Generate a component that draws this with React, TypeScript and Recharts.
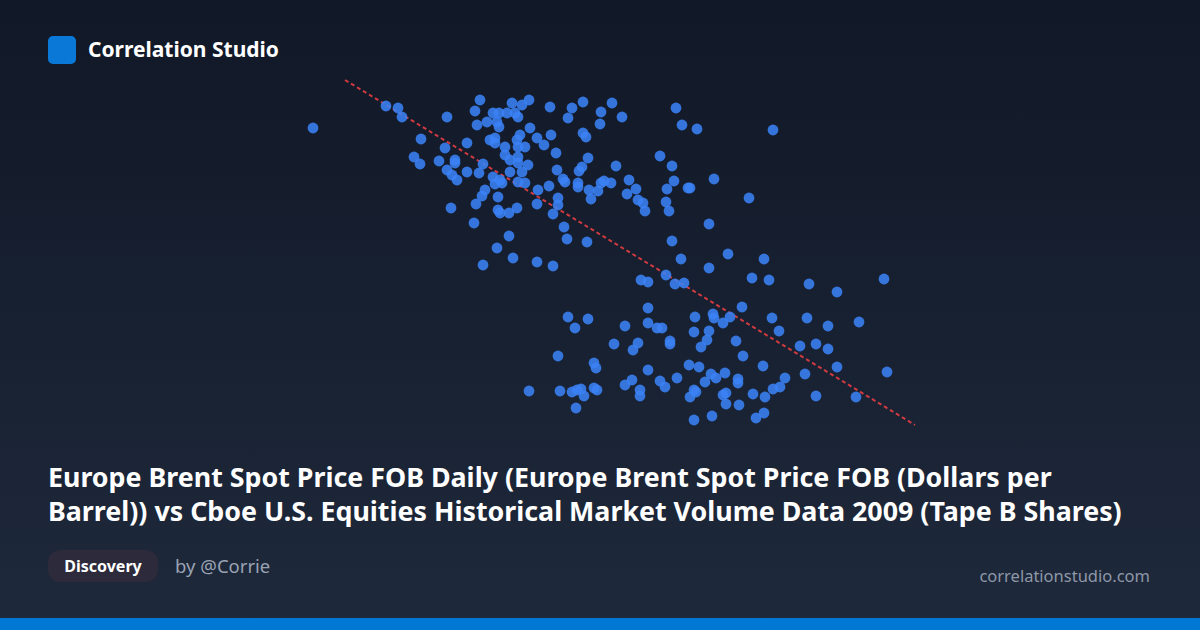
import { ScatterChart, Scatter, XAxis, YAxis } from "recharts";

// [brent $/bbl, tape B volume (M shares)]
const earlyDays: [number, number][] = [
  [31.3, 664], [38.6, 708], [39.8, 704], [40.2, 686], [44.7, 686], [48.0, 720], [47.5, 698], [47.7, 670],
  [49.3, 694], [48.7, 676], [49.7, 676], [49.0, 640], [49.5, 634], [42.1, 642], [44.5, 624], [46.7, 634],
  [41.4, 606], [42.0, 592], [43.9, 598], [45.5, 600], [45.5, 594], [44.7, 580], [45.2, 570], [45.7, 560],
  [46.7, 576], [47.9, 574], [48.3, 592], [49.3, 566], [49.5, 552], [48.5, 540], [48.2, 528], [49.8, 526],
  [47.6, 512], [45.1, 504], [47.4, 474], [49.8, 500], [49.7, 424], [48.3, 390], [51.2, 714], [52.9, 720],
  [52.2, 710], [50.7, 694], [51.5, 694], [51.8, 686], [49.9, 694], [49.9, 666], [55.0, 706], [57.2, 704],
  [56.8, 684], [58.3, 716], [60.1, 696], [61.2, 714], [62.2, 686], [60.0, 672], [67.6, 704], [68.2, 670],
  [69.7, 662], [53.0, 664], [52.0, 650], [51.7, 640], [53.7, 644], [55.1, 650], [54.4, 630], [58.3, 654],
  [58.6, 646], [50.5, 626], [51.8, 626], [52.5, 626], [49.5, 644], [55.6, 614], [58.8, 604], [50.5, 610],
  [51.0, 600], [51.8, 606], [51.8, 594], [52.8, 590], [55.7, 580], [58.2, 586], [57.9, 578], [61.6, 588],
  [66.0, 608], [67.2, 588], [50.0, 560], [51.0, 576], [52.2, 576], [51.8, 556], [52.5, 554], [50.2, 554],
  [56.3, 562], [56.5, 556], [57.8, 554], [57.8, 546], [60.1, 554], [60.4, 558], [61.1, 554], [62.9, 560],
  [67.4, 558], [68.8, 544], [54.9, 548], [53.8, 540], [58.9, 540], [59.8, 538], [62.7, 532], [63.6, 542],
  [59.1, 522], [66.7, 542], [66.6, 516], [66.9, 498], [63.8, 520], [64.3, 514], [64.5, 498], [50.0, 494],
  [50.9, 494], [51.7, 504], [53.7, 512], [55.8, 524], [55.8, 510], [55.3, 492], [56.4, 466], [50.9, 448],
  [56.7, 442], [58.7, 436], [67.2, 438], [51.3, 404], [53.7, 396], [55.3, 388], [68.1, 402], [77.3, 660],
  [71.4, 562], [69.0, 544], [74.9, 524], [70.9, 472], [72.8, 412], [76.4, 402], [70.9, 384],
];

const lateDays: [number, number][] = [
  [56.8, 286], [58.8, 282], [57.5, 264], [62.5, 268], [61.4, 232], [55.8, 208], [59.4, 194], [59.6, 184],
  [52.9, 138], [56.0, 138], [57.2, 136], [57.7, 140], [58.1, 142], [58.4, 128], [59.4, 144], [59.7, 140],
  [57.6, 104], [62.5, 150], [75.2, 364], [76.9, 360], [80.9, 352], [64.1, 360], [64.8, 356], [66.6, 370],
  [67.5, 352], [68.4, 354], [64.8, 304], [74.2, 306], [69.5, 286], [71.3, 292], [71.4, 284], [73.0, 286],
  [72.3, 274], [77.2, 284], [80.7, 284], [64.8, 274], [65.7, 264], [66.2, 264], [69.4, 256], [70.9, 258],
  [77.9, 258], [70.7, 240], [63.8, 234], [63.3, 220], [67.0, 238], [67.0, 232], [70.1, 226], [73.6, 238],
  [80.0, 228], [81.6, 232], [74.3, 208], [76.3, 188], [80.5, 172], [68.9, 190], [69.9, 186], [64.8, 180],
  [67.7, 164], [71.1, 172], [71.6, 164], [72.5, 174], [70.5, 156], [73.8, 162], [73.8, 154], [78.5, 164],
  [78.0, 146], [77.3, 142], [63.2, 160], [66.0, 158], [66.5, 146], [64.0, 140], [64.0, 128], [69.4, 140],
  [69.6, 136], [69.0, 126], [72.6, 134], [72.3, 130], [72.6, 112], [75.3, 132], [76.5, 126], [73.9, 110],
  [81.6, 128], [69.4, 80], [71.2, 88], [75.6, 84], [76.4, 94], [83.7, 336], [88.4, 362], [82.8, 268],
  [85.9, 276], [82.8, 222], [83.7, 186], [88.7, 176], [85.6, 126],
];

const trendEnds: [number, number][] = [
  [34.5, 760],
  [91.5, 70],
];

const points = [...earlyDays, ...lateDays].map(([x, y]) => ({ x, y }));
const trend = trendEnds.map(([x, y]) => ({ x, y }));

const font = "'Noto Sans', 'Open Sans', sans-serif";

const Dot = (props: any) => (
  <circle cx={props.cx} cy={props.cy} r={5.4} fill="#3b82f6" fillOpacity={0.87} />
);

const App = () => {
  return (
    <div
      style={{
        position: "absolute",
        left: 0,
        top: 0,
        width: 1200,
        height: 630,
        overflow: "hidden",
        background: "linear-gradient(180deg, #111827 0%, #1e293b 100%)",
        fontFamily: font,
        color: "#fff",
      }}
    >
      <div style={{ position: "absolute", left: 0, top: 0 }}>
        <ScatterChart width={1200} height={630} margin={{ top: 60, right: 250, bottom: 170, left: 300 }}>
          <XAxis type="number" dataKey="x" domain={[30, 95]} hide />
          <YAxis type="number" dataKey="y" domain={[0, 800]} hide />
          <Scatter
            data={trend}
            line={{ stroke: "#d13a40", strokeWidth: 2, strokeDasharray: "4 3" }}
            shape={() => <g />}
            isAnimationActive={false}
          />
          <Scatter data={points} shape={Dot} isAnimationActive={false} />
        </ScatterChart>
      </div>

      <div
        style={{
          position: "absolute",
          left: 48,
          top: 36,
          width: 28,
          height: 28,
          borderRadius: 5,
          background: "#0a78d6",
        }}
      />
      <div style={{ position: "absolute", left: 88, top: 34, fontSize: 21, fontWeight: 700, lineHeight: "30px" }}>
        Correlation Studio
      </div>

      <div
        style={{
          position: "absolute",
          left: 48,
          top: 460,
          fontSize: 26.8,
          fontWeight: 700,
          lineHeight: "33.5px",
          whiteSpace: "nowrap",
        }}
      >
        Europe Brent Spot Price FOB Daily (Europe Brent Spot Price FOB (Dollars per
        <br />
        Barrel)) vs Cboe U.S. Equities Historical Market Volume Data 2009 (Tape B Shares)
      </div>

      <div
        style={{
          position: "absolute",
          left: 48,
          top: 550,
          width: 110,
          height: 32,
          borderRadius: 12,
          background: "#2c2a3b",
          fontSize: 16,
          fontWeight: 700,
          lineHeight: "32px",
          textAlign: "center",
        }}
      >
        Discovery
      </div>
      <div style={{ position: "absolute", left: 175, top: 552, fontSize: 18.5, lineHeight: "28px", color: "#9aa3b4" }}>
        by @Corrie
      </div>
      <div
        style={{
          position: "absolute",
          right: 50,
          top: 563,
          fontSize: 16.5,
          lineHeight: "26px",
          color: "#8e97a8",
        }}
      >
        correlationstudio.com
      </div>

      <div style={{ position: "absolute", left: 0, bottom: 0, width: 1200, height: 12, background: "#0078d4" }} />
    </div>
  );
};

export default App;
